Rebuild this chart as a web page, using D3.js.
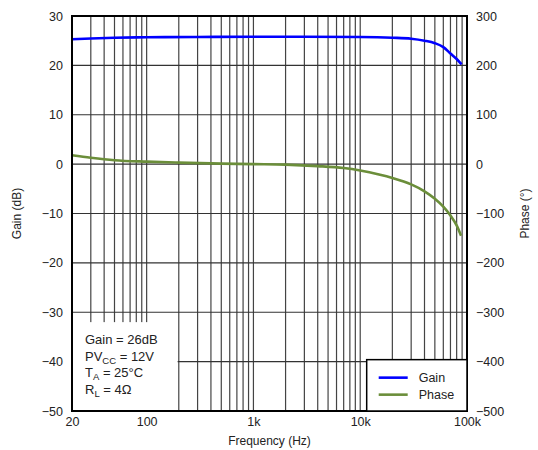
<!DOCTYPE html>
<html>
<head>
<meta charset="utf-8">
<script src="https://cdn.jsdelivr.net/npm/d3@7"></script>
<style>
  body { margin: 0; background: #fff; }
  text { font-family: "Liberation Sans", Arial, sans-serif; fill: #222; }
</style>
</head>
<body>
<div id="chart"></div>
<script>
// data
var gainFreq = [20, 30, 50, 100, 300, 1000, 3000, 10000, 20000, 30000, 40000, 50000, 60000, 70000, 80000, 89000];
var gainDb   = [25.3, 25.45, 25.6, 25.7, 25.75, 25.8, 25.8, 25.75, 25.6, 25.4, 25.0, 24.5, 23.7, 22.4, 21.3, 20.2];

var phaseFreq = [20, 30, 50, 100, 200, 500, 1000, 2000, 4000, 7000, 10000, 15000, 20000, 30000, 40000, 50000, 60000, 70000, 80000, 88000];
var phaseDeg  = [18, 13, 8, 5, 3, 1, 0, -1, -4, -8, -13, -21, -28, -41, -55, -70, -86, -104, -124, -145];

var xTicks = [20, 100, 1000, 10000, 100000];
var xTickLabels = ["20", "100", "1k", "10k", "100k"];
var gainTicks = [-50, -40, -30, -20, -10, 0, 10, 20, 30];
var phaseTicks = [-500, -400, -300, -200, -100, 0, 100, 200, 300];

var notes = [
  [["Gain = 26dB", false]],
  [["PV", false], ["CC", true], [" = 12V", false]],
  [["T", false], ["A", true], [" = 25°C", false]],
  [["R", false], ["L", true], [" = 4Ω", false]]
];
var legendNames = ["Gain", "Phase"];
var legendColors = ["#0000ff", "#6b8e3a"];

var margin = {top: 16, right: 71, bottom: 39, left: 72},
    width = 538 - margin.left - margin.right,
    height = 450 - margin.top - margin.bottom;

var svg = d3.select("#chart")
  .append("svg")
    .attr("width", 538)
    .attr("height", 450)
  .append("g")
    .attr("transform", "translate(" + margin.left + "," + margin.top + ")");

var x = d3.scaleLog().domain([20, 100000]).range([0, width]);
var yG = d3.scaleLinear().domain([-50, 30]).range([height, 0]);
var yP = d3.scaleLinear().domain([-500, 300]).range([height, 0]);

// vertical grid lines at every 1..9 multiple
var gridFreqs = [];
[10, 100, 1000, 10000].forEach(function(dec) {
  for (var k = 1; k <= 9; k++) {
    var f = dec * k;
    if (f > 20 && f < 100000) gridFreqs.push(f);
  }
});

svg.selectAll(".vgrid")
  .data(gridFreqs)
  .enter().append("line")
    .attr("x1", function(d) { return x(d); })
    .attr("x2", function(d) { return x(d); })
    .attr("y1", 0)
    .attr("y2", height)
    .attr("stroke", "#444")
    .attr("stroke-width", 1.2);

svg.selectAll(".hgrid")
  .data(gainTicks.slice(1, -1))
  .enter().append("line")
    .attr("x1", 0)
    .attr("x2", width)
    .attr("y1", function(d) { return yG(d); })
    .attr("y2", function(d) { return yG(d); })
    .attr("stroke", "#333")
    .attr("stroke-width", 1.2);

// white box behind the conditions text
svg.append("rect")
  .attr("x", 0)
  .attr("y", yG(-32))
  .attr("width", x(195))
  .attr("height", height - yG(-32))
  .attr("fill", "#fff");

// curves
var gainData = gainFreq.map(function(f, i) { return {f: f, v: gainDb[i]}; });
var phaseData = phaseFreq.map(function(f, i) { return {f: f, v: phaseDeg[i]}; });

svg.append("path")
  .datum(phaseData)
  .attr("fill", "none")
  .attr("stroke", legendColors[1])
  .attr("stroke-width", 2.6)
  .attr("d", d3.line()
    .curve(d3.curveMonotoneX)
    .x(function(d) { return x(d.f); })
    .y(function(d) { return yP(d.v); }));

svg.append("path")
  .datum(gainData)
  .attr("fill", "none")
  .attr("stroke", legendColors[0])
  .attr("stroke-width", 2.6)
  .attr("d", d3.line()
    .curve(d3.curveMonotoneX)
    .x(function(d) { return x(d.f); })
    .y(function(d) { return yG(d.v); }));

// frame
svg.append("rect")
  .attr("width", width)
  .attr("height", height)
  .attr("fill", "none")
  .attr("stroke", "#000")
  .attr("stroke-width", 2);

// axes
var fontSize = "12.5px";

var xAxis = svg.append("g")
  .attr("transform", "translate(0," + height + ")")
  .call(d3.axisBottom(x).tickValues(xTicks)
    .tickFormat(function(d, i) { return xTickLabels[i]; })
    .tickSize(0).tickPadding(6));
xAxis.select(".domain").remove();
xAxis.selectAll("text").style("font-size", fontSize).attr("fill", "#222");

var lAxis = svg.append("g")
  .call(d3.axisLeft(yG).tickValues(gainTicks)
    .tickFormat(function(d) { return d < 0 ? "\u2212" + Math.abs(d) : d; })
    .tickSize(0).tickPadding(9));
lAxis.select(".domain").remove();
lAxis.selectAll("text").style("font-size", fontSize).attr("fill", "#222");

var rAxis = svg.append("g")
  .attr("transform", "translate(" + width + ",0)")
  .call(d3.axisRight(yP).tickValues(phaseTicks)
    .tickFormat(function(d) { return d < 0 ? "\u2212" + Math.abs(d) : d; })
    .tickSize(0).tickPadding(9));
rAxis.select(".domain").remove();
rAxis.selectAll("text").style("font-size", fontSize).attr("fill", "#222");

// axis titles
svg.append("text")
  .attr("x", width / 2)
  .attr("y", height + 34)
  .attr("text-anchor", "middle")
  .style("font-size", "12px")
  .text("Frequency (Hz)");

svg.append("text")
  .attr("transform", "translate(-51," + (height / 2) + ") rotate(-90)")
  .attr("text-anchor", "middle")
  .style("font-size", "12px")
  .text("Gain (dB)");

svg.append("text")
  .attr("transform", "translate(" + (width + 62) + "," + (height / 2) + ") rotate(-90)")
  .attr("text-anchor", "middle")
  .style("font-size", "12px")
  .text("Phase (°)");

// conditions text
notes.forEach(function(parts, i) {
  var t = svg.append("text")
    .attr("x", 13)
    .attr("y", yG(-36.5) + i * 16.5)
    .style("font-size", "13px");
  parts.forEach(function(p) {
    var s = t.append("tspan").text(p[0]);
    if (p[1]) {
      s.style("font-size", "9.5px").attr("dy", 3);
    } else if (t.selectAll("tspan").size() > 1) {
      s.attr("dy", -3);
    }
  });
});

// legend
var lgX = x(11500), lgY = yG(-39.6);
var legend = svg.append("g");
legend.append("rect")
  .attr("x", lgX)
  .attr("y", lgY)
  .attr("width", width - lgX)
  .attr("height", height - lgY)
  .attr("fill", "#fff")
  .attr("stroke", "#000")
  .attr("stroke-width", 1.5);

legendNames.forEach(function(name, i) {
  var ly = lgY + 18 + i * 17;
  legend.append("line")
    .attr("x1", lgX + 12)
    .attr("x2", lgX + 41)
    .attr("y1", ly)
    .attr("y2", ly)
    .attr("stroke", legendColors[i])
    .attr("stroke-width", 2.6);
  legend.append("text")
    .attr("x", lgX + 52)
    .attr("y", ly + 4.5)
    .style("font-size", "12.5px")
    .text(name);
});
</script>
</body>
</html>
